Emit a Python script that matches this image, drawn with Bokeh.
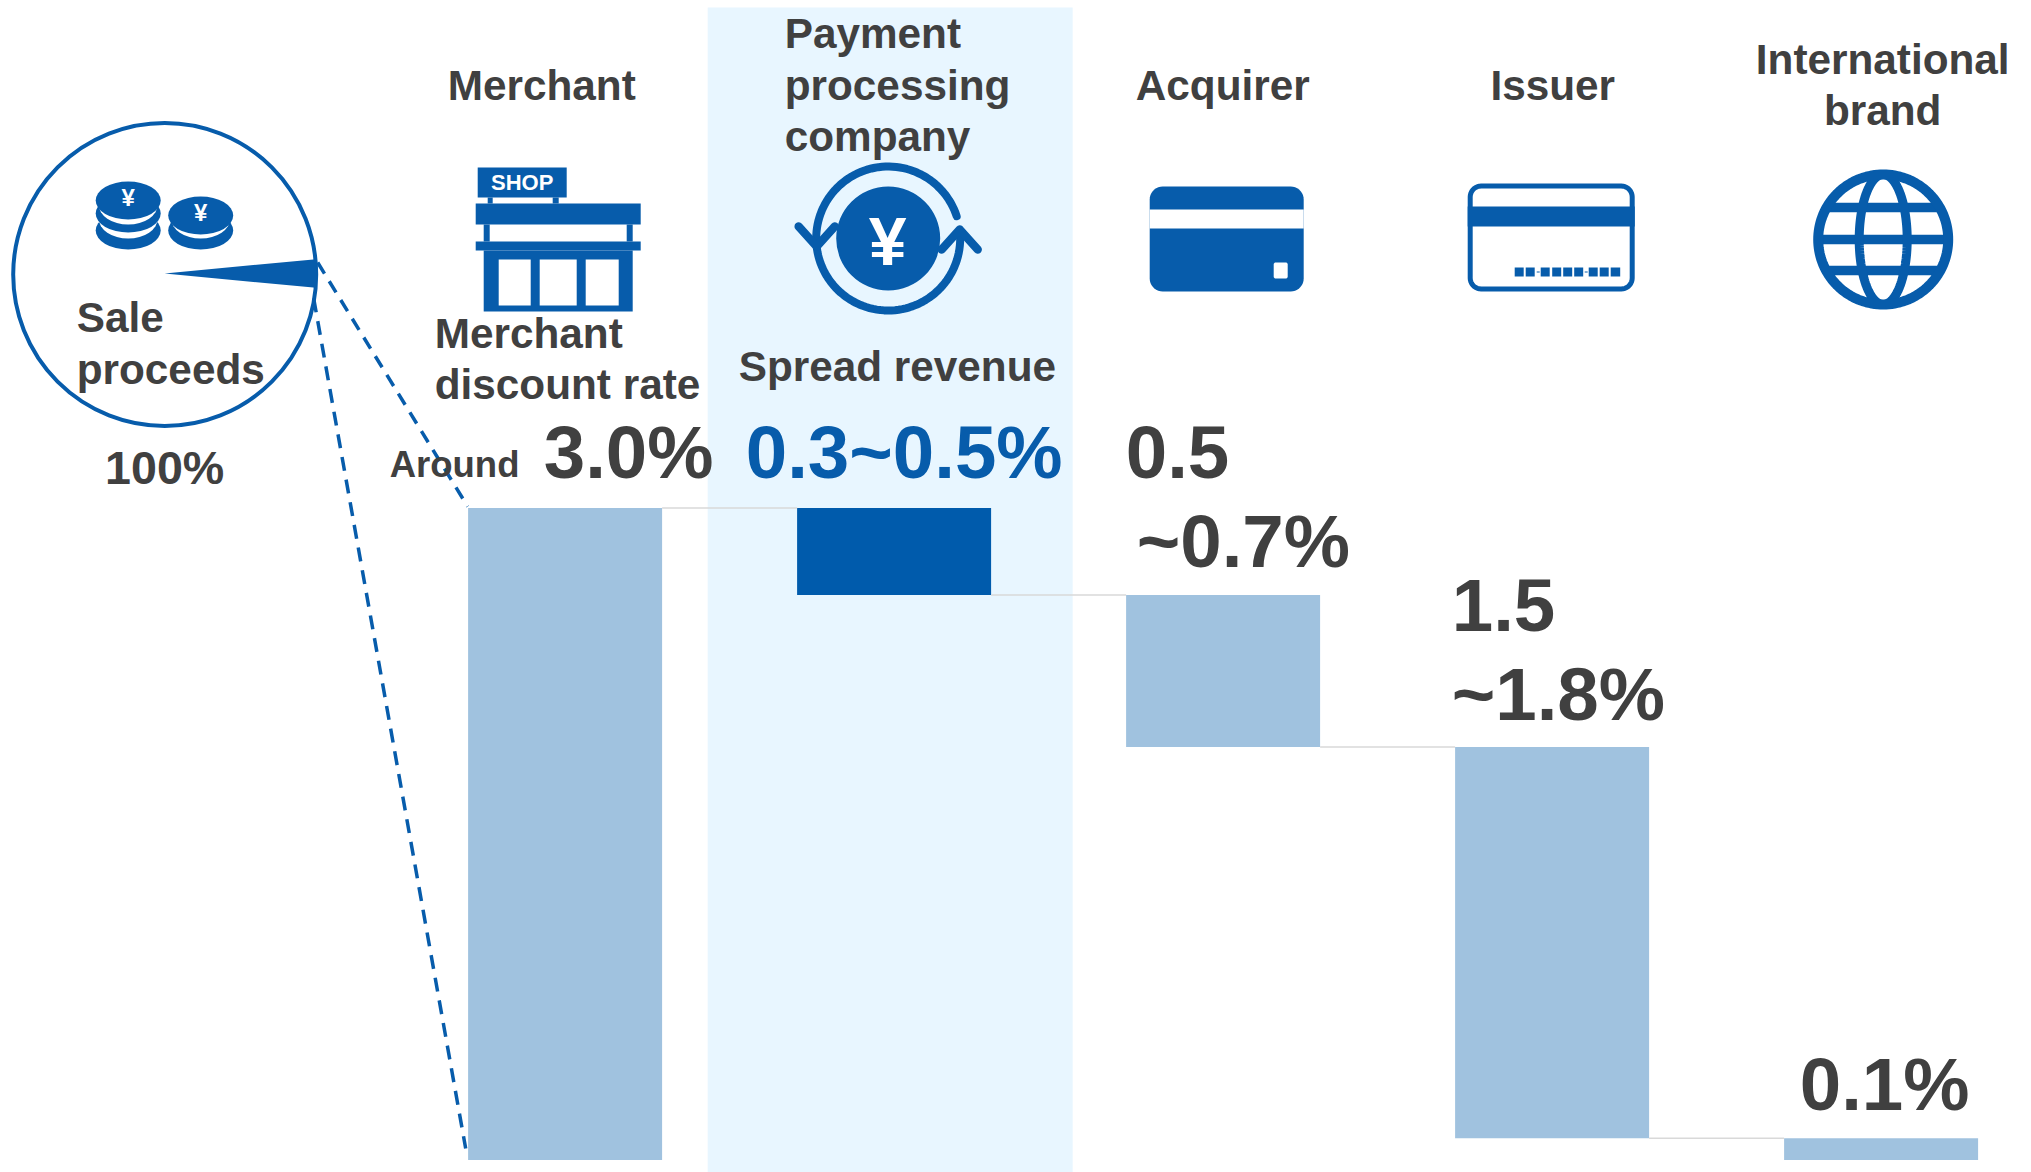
import numpy as np
from bokeh.core.properties import value
from bokeh.embed import file_html
from bokeh.models import Range1d
from bokeh.plotting import figure
from bokeh.resources import INLINE

# ---- chart data -------------------------------------------------------
categories = ["Merchant", "Payment processing company", "Acquirer", "Issuer", "International brand"]
shares = [3.0, 0.4, 0.7, 1.8, 0.1]          # % of sale proceeds (midpoints of the quoted ranges)
total_share = 3.0

BLUE = "#075CAB"
DARK_BAR = "#005BAC"
LIGHT = "#A0C2DF"
PANEL = "#E8F6FF"
TEXT = "#404040"
GREY = "#D9D9D9"
FONT = value("Liberation Sans")

W, H = 2031, 1172
ORIGIN = 0

# main scales: x in category index, y in percent
PX_PER_PCT = 217.33
PITCH = 329.0
X0_PX = 564.6
Y0_PX = 1159.5
p = figure(
    width=W, height=H, output_backend="svg", toolbar_location=None,
    x_range=Range1d((ORIGIN - X0_PX) / PITCH, (ORIGIN + W - X0_PX) / PITCH),
    y_range=Range1d((Y0_PX - (ORIGIN + H)) / PX_PER_PCT, (Y0_PX - ORIGIN) / PX_PER_PCT),
    x_axis_location=None, y_axis_location=None, min_border=0,
    background_fill_color="white", border_fill_color="white",
)
p.outline_line_color = None
p.grid.visible = False
# secondary scale for the decoration, in page pixels
p.extra_x_ranges = {"px": Range1d(ORIGIN + 0.8, ORIGIN + W + 0.8)}
p.extra_y_ranges = {"px": Range1d(ORIGIN + H, ORIGIN)}
PX = dict(x_range_name="px", y_range_name="px")


def label(x, y, s, size, color=TEXT, align="left", style="bold", baseline="alphabetic"):
    if baseline == "alphabetic":
        y = y - 0.36 * size
    p.text(x=[x], y=[y], text=[s], text_font=FONT, text_font_style=style,
           text_font_size=value(f"{size}px"), text_color=color, text_align=align,
           text_baseline=baseline, **PX)


def box(x0, y0, x1, y1, color=BLUE):
    p.quad(left=[x0], right=[x1], top=[y0], bottom=[y1], fill_color=color, line_color=None, **PX)


def rrect(x0, y0, x1, y1, r):
    xs, ys = [], []
    for cx, cy, a0 in [(x1 - r, y0 + r, -90), (x1 - r, y1 - r, 0), (x0 + r, y1 - r, 90), (x0 + r, y0 + r, 180)]:
        t = np.radians(np.linspace(a0, a0 + 90, 10))
        xs += list(cx + r * np.cos(t))
        ys += list(cy + r * np.sin(t))
    return xs, ys


def rbox(x0, y0, x1, y1, r, color=BLUE):
    xs, ys = rrect(x0, y0, x1, y1, r)
    p.patch(xs, ys, fill_color=color, line_color=None, **PX)


def oval(cx, cy, w, h, color=BLUE):
    p.ellipse(x=[cx], y=[cy], width=[w], height=[h], fill_color=color, line_color=None, **PX)


# ---- highlight panel --------------------------------------------------
box(708, 7, 1073, 1172, PANEL)

# ---- waterfall --------------------------------------------------------
idx = list(range(len(categories)))
tops = [total_share, total_share]
for s in shares[1:-1]:
    tops.append(round(tops[-1] - s, 4))
bottoms = [0.0] + [round(t - s, 4) for t, s in zip(tops[1:], shares[1:])]
bar_colors = [LIGHT, DARK_BAR, LIGHT, LIGHT, LIGHT]
BAR_W = 194.0 / PITCH
p.vbar(x=idx, top=tops, bottom=bottoms, width=BAR_W, fill_color=bar_colors, line_color=None)
for i in idx[:-1]:
    level = tops[i + 1]
    p.line([i + BAR_W / 2, i + 1 - BAR_W / 2], [level, level], line_color=GREY, line_width=1.5)

# ---- circle with wedge -------------------------------------------------
p.ellipse(x=[165], y=[274], width=[303], height=[303], fill_color="white", line_color=BLUE,
          line_width=4, **PX)
a = total_share / 100 * np.pi
p.wedge(x=[165], y=[273], radius=[152], start_angle=[-a], end_angle=[a],
        fill_color=BLUE, line_color=None, **PX)
p.line([318, 468], [262, 506], line_color=BLUE, line_width=3.5, line_dash="13 9", **PX)
p.line([314, 466], [298, 1148], line_color=BLUE, line_width=3.5, line_dash="14 9", **PX)

# coins
for cx, blue_y, white_y in [(128.5, [230, 213, 200], [218, 204]), (201, [230, 215], [218])]:
    for k, by in enumerate(blue_y):
        oval(cx, by, 65, 38)
        if k < len(white_y):
            oval(cx, white_y[k], 59, 40, "white")
label(128.5, 197, "¥", 24, "white", "center", baseline="middle")
label(201, 212, "¥", 24, "white", "center", baseline="middle")

# ---- shop icon ---------------------------------------------------------
box(478, 167, 567, 197)
label(522.5, 190, "SHOP", 22, "white", "center")
box(488, 197, 493, 203)
box(553, 197, 559, 203)
box(476, 203, 641, 224)
box(484, 224, 490, 241)
box(627, 224, 633, 241)
box(476, 241, 641, 250)
box(484, 250, 633, 311)
for x0, x1 in [(499, 531), (540, 577), (586, 619)]:
    box(x0, 259, x1, 305, "white")

# ---- processing icon ---------------------------------------------------
oval(888.5, 238, 104, 104)
label(888, 240, "¥", 68, "white", "center", baseline="middle")
for a0, a1 in [(-18, -186), (172, 0)]:
    t = np.radians(np.linspace(a0, a1, 60))
    p.line(888.5 + 72 * np.cos(t), 238 + 72 * np.sin(t), line_color=BLUE, line_width=8,
           line_cap="round", **PX)
p.line([799, 817, 835], [226, 246, 226], line_color=BLUE, line_width=8.5, line_cap="round",
       line_join="round", **PX)
p.line([942, 960, 978], [249, 229, 249], line_color=BLUE, line_width=8.5, line_cap="round",
       line_join="round", **PX)

# ---- acquirer card -----------------------------------------------------
rbox(1150, 186, 1304, 291, 13)
box(1150, 209, 1304, 228, "white")
rbox(1274, 262, 1288, 278, 2, "white")

# ---- issuer card -------------------------------------------------------
xs, ys = rrect(1470.5, 185.5, 1632.5, 288.5, 11)
p.patch(xs, ys, fill_color="white", line_color=BLUE, line_width=5, **PX)
box(1468, 206, 1635, 226)
for x0, x1 in [(1515, 1524), (1526, 1535), (1541, 1550), (1552.5, 1561.5), (1563.5, 1572.5),
               (1574.5, 1583.5), (1589, 1598), (1600, 1609), (1611, 1620.5)]:
    box(x0, 267, x1, 276)
for x0, x1 in [(1537, 1540), (1585, 1588)]:
    box(x0, 271, x1, 272)

# ---- globe -------------------------------------------------------------
GX, GY = 1883.5, 239
t = np.radians(np.linspace(0, 360, 145))
for dy in [-32, 0, 31]:
    half = np.sqrt(65.0 ** 2 - dy ** 2)
    p.line([GX - half, GX + half], [GY + dy, GY + dy], line_color=BLUE, line_width=9.5, **PX)
p.line(GX + 24 * np.cos(t), GY + 65 * np.sin(t), line_color=BLUE, line_width=9, **PX)
p.line(GX + 65 * np.cos(t), GY + 65 * np.sin(t), line_color=BLUE, line_width=10, **PX)

# ---- headings ----------------------------------------------------------
HEAD = 42.3
label(448, 100, "Merchant", HEAD)
label(785, 48, "Payment", HEAD)
label(785, 100, "processing", HEAD)
label(785, 151, "company", HEAD)
label(1223, 100, "Acquirer", HEAD, align="center")
label(1553, 100, "Issuer", HEAD, align="center")
label(1883, 74, "International", HEAD, align="center")
label(1883, 125, "brand", HEAD, align="center")

label(77, 332, "Sale", HEAD)
label(77, 384, "proceeds", HEAD)
label(165, 484, "100%", 46.6, align="center")

label(435, 348, "Merchant", HEAD)
label(435, 399, "discount rate", HEAD)
label(739, 381, "Spread revenue", HEAD)

BIG = 74.5
label(390, 477, "Around", 36.5)
label(544, 479, "3.0%", BIG)
label(746, 479, "0.3~0.5%", BIG, BLUE)
label(1126, 478, "0.5", BIG)
label(1137, 568, "~0.7%", BIG)
label(1452, 631, "1.5", BIG)
label(1452, 721, "~1.8%", BIG)
label(1800, 1111, "0.1%", BIG)

open("out.html", "w").write(file_html(p, INLINE))
